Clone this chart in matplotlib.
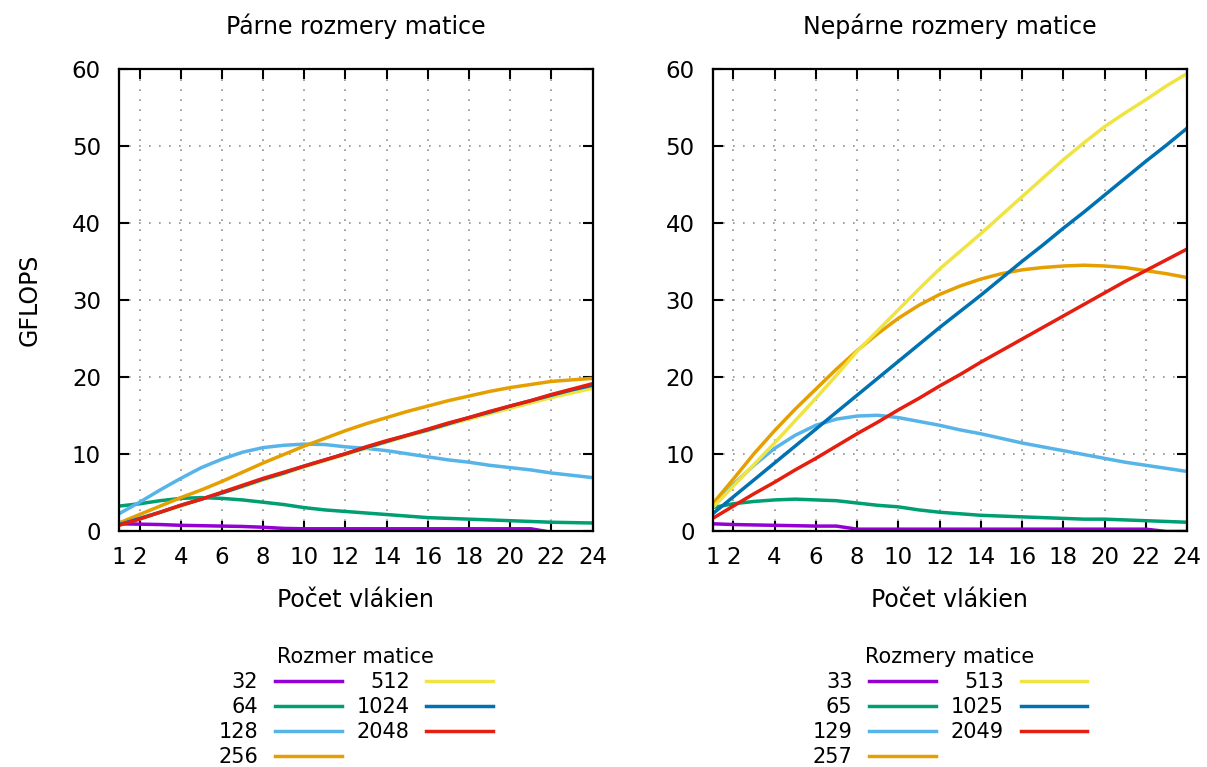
import numpy as np
import matplotlib
matplotlib.use("Agg")
import matplotlib.pyplot as plt

# Počet vlákien (threads)
threads = list(range(1, 25))

# --- párne rozmery matice (GFLOPS) ---
even_sizes = ["32", "64", "128", "256", "512", "1024", "2048"]
even_32 = [0.9, 0.85, 0.8, 0.7, 0.65, 0.6, 0.55, 0.45, 0.3, 0.25, 0.25, 0.25,
           0.25, 0.25, 0.25, 0.25, 0.25, 0.25, 0.25, 0.25, 0.25, -0.2, -0.2, -0.2]
even_64 = [3.2, 3.5, 3.9, 4.2, 4.3, 4.2, 4.0, 3.7, 3.4, 3.0, 2.7, 2.5,
           2.3, 2.1, 1.9, 1.7, 1.6, 1.5, 1.4, 1.3, 1.2, 1.1, 1.05, 1.0]
even_128 = [2.2, 3.7, 5.3, 6.8, 8.2, 9.3, 10.2, 10.8, 11.1, 11.25, 11.2, 10.9,
            10.7, 10.4, 10.0, 9.6, 9.2, 8.9, 8.5, 8.2, 7.9, 7.5, 7.2, 6.9]
even_256 = [1.0, 2.1, 3.2, 4.3, 5.3, 6.4, 7.6, 8.8, 9.9, 11.0, 12.0, 13.0,
            13.9, 14.7, 15.5, 16.2, 16.9, 17.5, 18.1, 18.6, 19.0, 19.4, 19.6, 19.8]
even_512 = [0.8, 1.6, 2.4, 3.2, 4.1, 4.9, 5.7, 6.6, 7.4, 8.3, 9.1, 9.9,
            10.7, 11.5, 12.3, 13.0, 13.8, 14.5, 15.2, 15.9, 16.6, 17.3, 17.9, 18.5]
even_1024 = [0.8, 1.6, 2.4, 3.3, 4.1, 4.9, 5.8, 6.7, 7.5, 8.4, 9.2, 10.0,
             10.8, 11.6, 12.4, 13.1, 13.9, 14.7, 15.4, 16.2, 16.9, 17.6, 18.3, 18.9]
even_2048 = [0.7, 1.5, 2.4, 3.3, 4.1, 5.0, 5.9, 6.8, 7.6, 8.4, 9.2, 10.0,
             10.9, 11.7, 12.4, 13.2, 14.0, 14.7, 15.5, 16.2, 16.9, 17.7, 18.4, 19.1]

# --- nepárne rozmery matice (GFLOPS) ---
odd_sizes = ["33", "65", "129", "257", "513", "1025", "2049"]
odd_33 = [0.9, 0.8, 0.75, 0.7, 0.65, 0.6, 0.6, 0.2, 0.2, 0.2, 0.2, 0.2,
          0.2, 0.2, 0.2, 0.2, 0.2, 0.2, 0.2, 0.2, 0.2, 0.2, -0.1, -0.1]
odd_65 = [3.0, 3.5, 3.8, 4.0, 4.1, 4.0, 3.9, 3.6, 3.3, 3.1, 2.7, 2.4,
          2.2, 2.0, 1.9, 1.8, 1.7, 1.6, 1.5, 1.5, 1.4, 1.3, 1.2, 1.1]
odd_129 = [3.0, 6.0, 8.5, 10.7, 12.4, 13.7, 14.5, 14.9, 15.0, 14.7, 14.2, 13.7,
           13.1, 12.6, 12.0, 11.4, 10.9, 10.4, 9.9, 9.4, 8.9, 8.5, 8.1, 7.7]
odd_257 = [3.5, 6.7, 10.0, 13.0, 15.8, 18.4, 21.0, 23.4, 25.6, 27.6, 29.3, 30.7,
           31.8, 32.7, 33.4, 33.9, 34.2, 34.4, 34.5, 34.4, 34.2, 33.8, 33.4, 32.9]
odd_513 = [3.0, 5.8, 8.6, 11.4, 14.3, 17.2, 20.2, 23.3, 26.0, 28.7, 31.4, 34.0,
           36.3, 38.6, 41.0, 43.4, 45.8, 48.2, 50.4, 52.5, 54.3, 56.0, 57.8, 59.4]
odd_1025 = [2.2, 4.4, 6.6, 8.8, 11.0, 13.2, 15.4, 17.6, 19.8, 22.0, 24.2, 26.4,
            28.5, 30.6, 32.8, 35.0, 37.1, 39.3, 41.4, 43.6, 45.8, 48.0, 50.1, 52.3]
odd_2049 = [1.6, 3.2, 4.8, 6.3, 7.9, 9.4, 11.0, 12.6, 14.1, 15.7, 17.2, 18.8,
            20.3, 21.9, 23.4, 24.9, 26.4, 27.9, 29.4, 30.9, 32.4, 33.8, 35.2, 36.6]

x_ticks = [1, 2, 4, 6, 8, 10, 12, 14, 16, 18, 20, 22, 24]
y_ticks = [0, 10, 20, 30, 40, 50, 60]

colors = ["#9400d3", "#009e73", "#56b4e9", "#e69f00", "#f0e442", "#0072b2", "#e51e10"]

plt.rcParams["font.family"] = "DejaVu Sans"

FS = 16.5     # popisy osí a titulky
LEG_FS = 15   # legenda

fig = plt.figure(figsize=(12.07, 7.67), dpi=100)
ax_left = fig.add_axes([119 / 1207, 1 - 530.7 / 767, 473.5 / 1207, 461.7 / 767])
ax_right = fig.add_axes([712.7 / 1207, 1 - 530.7 / 767, 474.3 / 1207, 461.7 / 767])


def draw_panel(ax, series, labels, title, legend_title):
    for vals, lab, col in zip(series, labels, colors):
        ax.plot(threads, vals, color=col, lw=2.5, label=lab)

    ax.set_xlim(1, 24)
    ax.set_ylim(0, 60)
    ax.set_xticks(x_ticks)
    ax.set_yticks(y_ticks)
    ax.grid(True, color="#909090", lw=1.2, linestyle=(0, (1, 5)))
    ax.set_axisbelow(True)
    for sp in ax.spines.values():
        sp.set_linewidth(1.6)
    ax.tick_params(axis="both", direction="in", length=7, width=1.5,
                   top=True, right=True, labelsize=FS)
    ax.tick_params(axis="x", pad=11)
    ax.tick_params(axis="y", pad=13)

    ax.set_title(title, fontsize=FS + 0.5, pad=25)
    ax.set_xlabel("Počet vlákien", fontsize=FS + 0.5, labelpad=14)

    # legenda pod grafom, dva stĺpce, popis naľavo od čiary
    leg = ax.legend(loc="upper center", bbox_to_anchor=(0.5, -0.229),
                    ncol=2, frameon=False, markerfirst=False,
                    title=legend_title, fontsize=LEG_FS, title_fontsize=LEG_FS,
                    handlelength=3.2, handletextpad=0.8, columnspacing=0.72,
                    labelspacing=0.24, borderpad=0)
    return leg


draw_panel(ax_left,
           [even_32, even_64, even_128, even_256, even_512, even_1024, even_2048],
           even_sizes, "Párne rozmery matice", "Rozmer matice")
draw_panel(ax_right,
           [odd_33, odd_65, odd_129, odd_257, odd_513, odd_1025, odd_2049],
           odd_sizes, "Nepárne rozmery matice", "Rozmery matice")

ax_left.set_ylabel("GFLOPS", fontsize=FS + 0.5, labelpad=22)

fig.savefig("out.png", dpi=100)
